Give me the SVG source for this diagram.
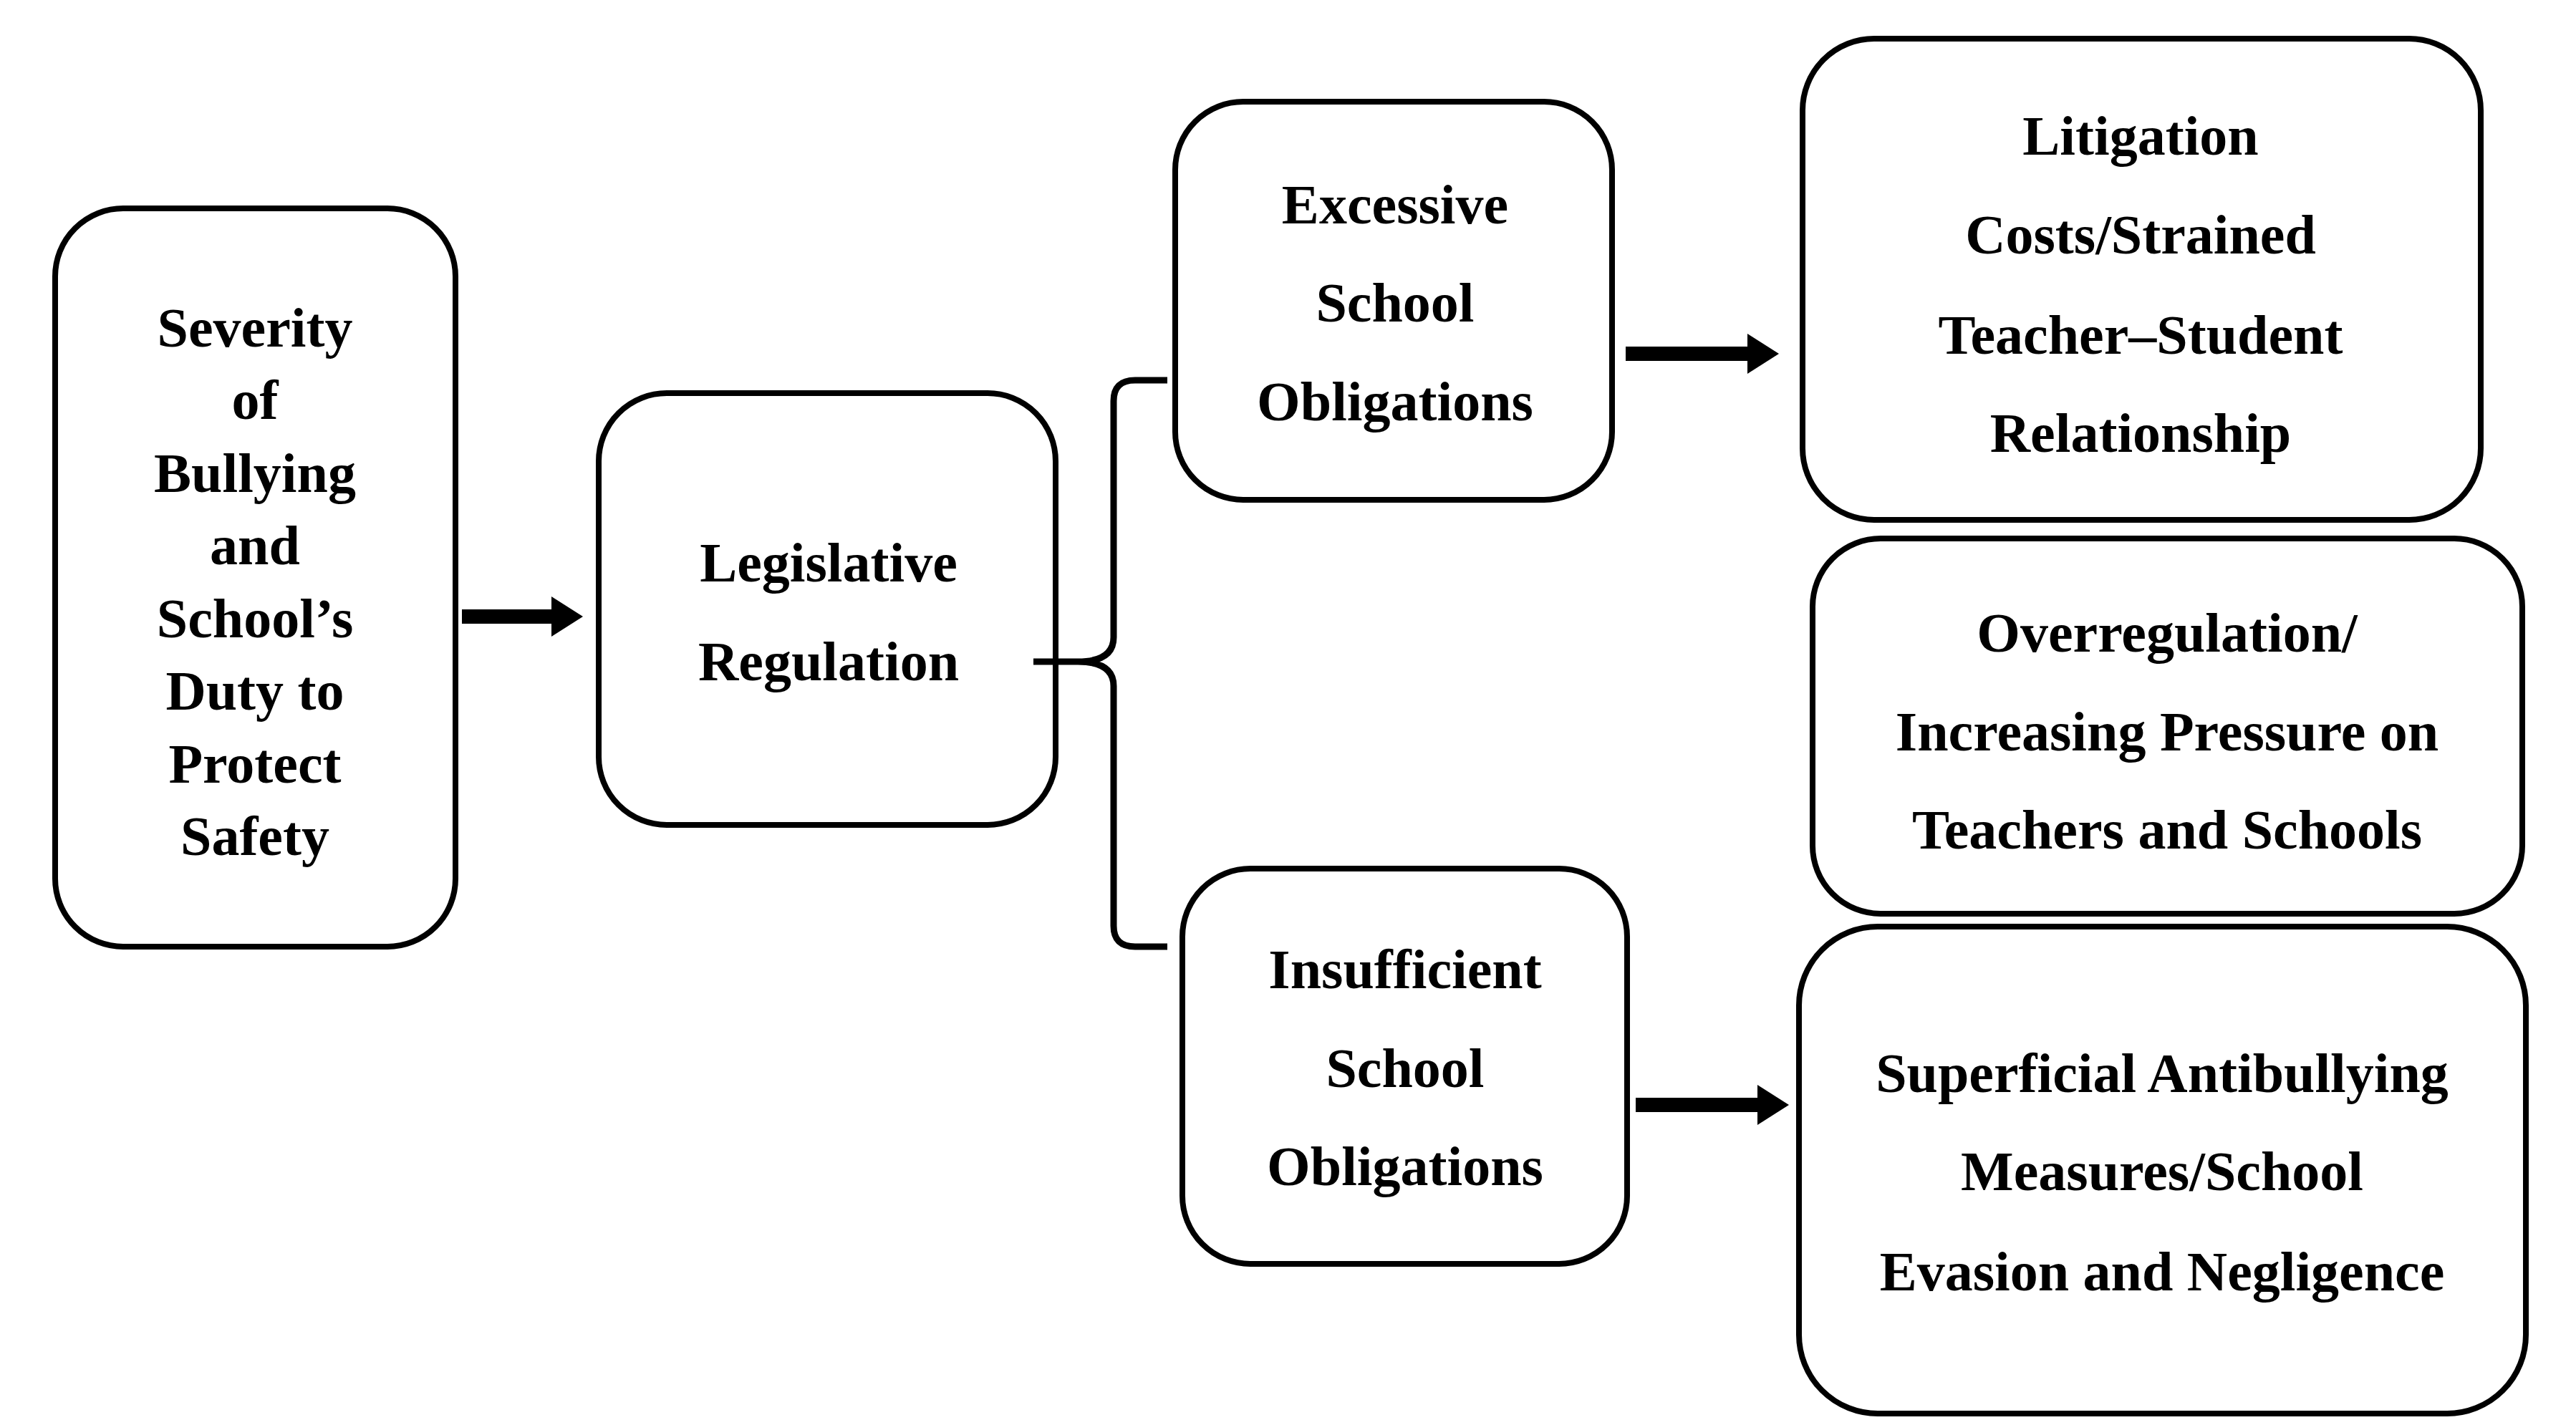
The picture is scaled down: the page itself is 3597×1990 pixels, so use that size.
<svg xmlns="http://www.w3.org/2000/svg" width="3597" height="1990" viewBox="0 0 3597 1990">
<style>
.b{fill:#fff;stroke:#000;stroke-width:8}
text{font-family:"Liberation Serif","Times New Roman",serif;font-weight:bold;font-size:78px;text-anchor:middle;fill:#000}
.c{stroke:#000;fill:none}
</style>
<defs><marker id="ah" markerWidth="4" markerHeight="4" refX="1" refY="2" orient="auto" markerUnits="strokeWidth"><path d="M0,0.6 L2.2,2 L0,3.4 Z" fill="#000"/></marker></defs>
<rect width="3597" height="1990" fill="#fff"/>
<g id="n1"><rect class="b" x="77" y="291" width="559" height="1031" rx="95"/>
<text x="356" y="484">Severity</text><text x="356" y="585">of</text><text x="356" y="687">Bullying</text><text x="356" y="788">and</text><text x="356" y="890">School’s</text><text x="356" y="991">Duty to</text><text x="356" y="1093">Protect</text><text x="356" y="1194">Safety</text></g>
<g id="n2"><rect class="b" x="836" y="549" width="638" height="603" rx="95"/>
<text x="1157" y="812">Legislative</text><text x="1157" y="950">Regulation</text></g>
<g id="n3"><rect class="b" x="1641" y="142" width="610" height="556" rx="95"/>
<text x="1948" y="312">Excessive</text><text x="1948" y="449">School</text><text x="1948" y="587">Obligations</text></g>
<g id="n4"><rect class="b" x="2517" y="54" width="947" height="672" rx="100"/>
<text x="2989" y="216">Litigation</text><text x="2989" y="354">Costs/Strained</text><text x="2989" y="494">Teacher–Student</text><text x="2989" y="631">Relationship</text></g>
<g id="n5"><rect class="b" x="2531" y="752" width="991" height="524" rx="95"/>
<text x="3026" y="910">Overregulation/</text><text x="3026" y="1048">Increasing Pressure on</text><text x="3026" y="1185">Teachers and Schools</text></g>
<g id="n6"><rect class="b" x="1651" y="1213" width="621" height="552" rx="95"/>
<text x="1962" y="1380">Insufficient</text><text x="1962" y="1518">School</text><text x="1962" y="1655">Obligations</text></g>
<g id="n7"><rect class="b" x="2512" y="1294" width="1015" height="680" rx="110"/>
<text x="3019" y="1525">Superficial Antibullying</text><text x="3019" y="1662">Measures/School</text><text x="3019" y="1802">Evasion and Negligence</text></g>
<g id="connectors">
<line class="c" x1="645" y1="861" x2="790" y2="861" stroke-width="20" marker-end="url(#ah)"/>
<line class="c" x1="2270" y1="494" x2="2460" y2="494" stroke-width="20" marker-end="url(#ah)"/>
<line class="c" x1="2284" y1="1543" x2="2474" y2="1543" stroke-width="20" marker-end="url(#ah)"/>
<path class="c" stroke-width="9" d="M1443,924 H1505 Q1555,924 1555,890 V560 Q1555,531 1585,531 H1630 M1505,924 Q1555,924 1555,958 V1293 Q1555,1322 1585,1322 H1630"/>
</g>
</svg>
